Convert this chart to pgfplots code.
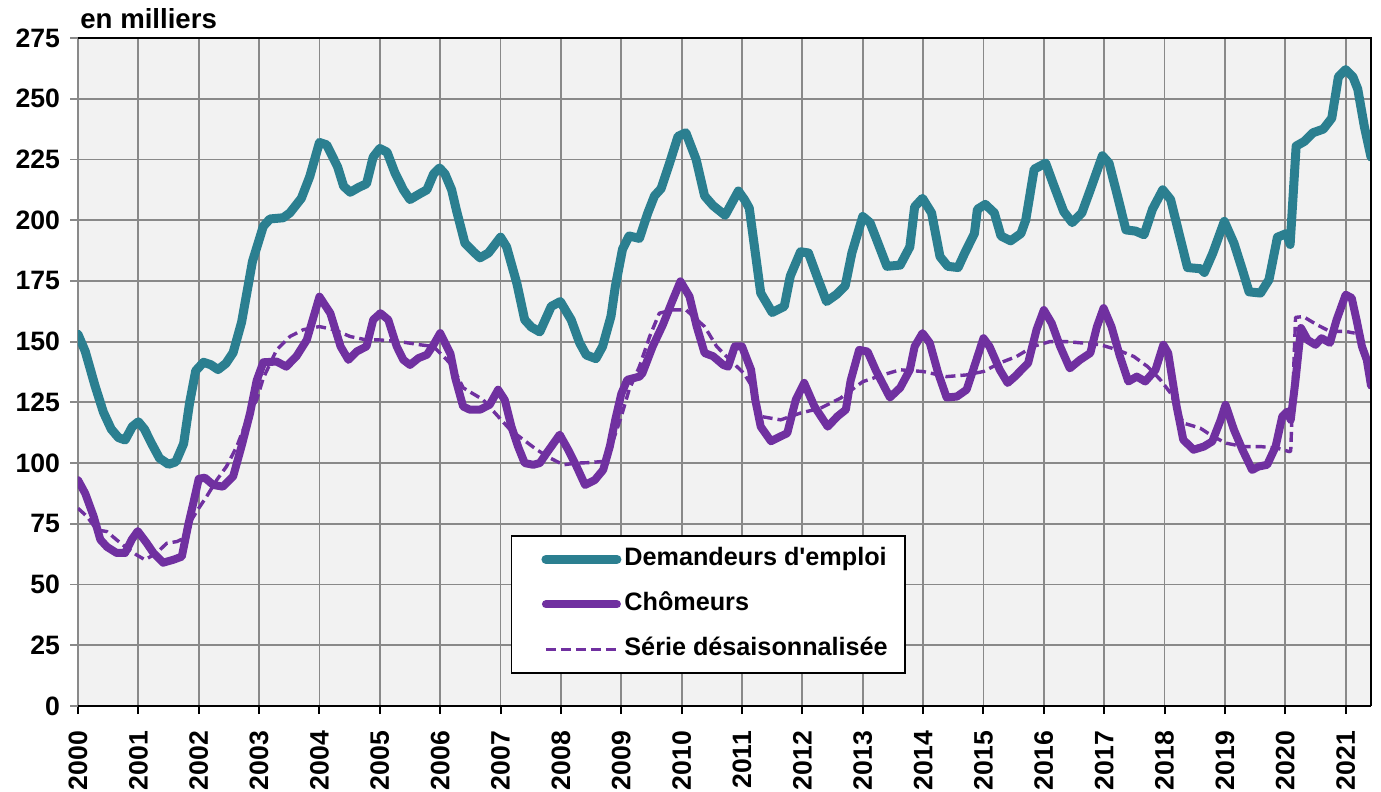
\documentclass[border=0pt]{standalone}
\usepackage{fontspec}
\setmainfont{Liberation Sans}
\usepackage{pgfplots}
\pgfplotsset{compat=1.18}
\definecolor{tealc}{HTML}{2B7F90}
\definecolor{purp}{HTML}{7030A0}
\definecolor{bgc}{HTML}{F2F2F2}
\definecolor{gridc}{HTML}{898989}
\begin{document}
\begin{tikzpicture}
\begin{axis}[
  name=ax,
  scale only axis, width=646.5pt, height=334pt,
  at={(0,0)}, anchor=south west,
  xmin=2000, xmax=2021.42, ymin=0, ymax=275,
  xtick={2000,2001,...,2021}, ytick={0,25,...,275},
  grid=major, major grid style={draw=gridc, line width=0.9pt},
  axis background/.style={fill=bgc},
  axis line style={draw=none},
  tick align=outside, major tick length=4pt,
  tick pos=left,
  xtick style={draw=black, line width=1pt},
  ytick style={draw=gridc, line width=0.9pt},
  /pgf/number format/assume math mode=true,
  /pgf/number format/1000 sep={},
  ticklabel style={font=\bfseries\fontsize{13.3}{15}\selectfont},
  xticklabel style={rotate=90, anchor=east},
  xticklabel shift=5pt,
  yticklabel shift=1.5pt,
  legend cell align=left,
  legend image code/.code={\path (0pt,0pt); \draw[#1] (8pt,0pt) -- (43.5pt,0pt);},
  legend style={at={(rel axis cs:0.3346,0.256)}, anchor=north west,
    draw=black, line width=0.8pt, fill=white,
    font=\bfseries\fontsize{12.6}{14}\selectfont,
    inner xsep=7pt, inner ysep=4pt, row sep=7pt,
    nodes={inner sep=1.5pt, text height=9.5pt, text depth=3pt}},
]
\addplot[tealc, line width=4.5pt, line join=round, line cap=round] coordinates {
(2000.00,153) (2000.12,146) (2000.28,132) (2000.42,121) (2000.55,114) (2000.67,110.5)
(2000.78,109.5) (2000.90,115) (2001.00,117) (2001.10,114) (2001.22,108) (2001.35,102)
(2001.50,99.5) (2001.62,100.5) (2001.75,108) (2001.85,125) (2001.95,138) (2002.08,141.5)
(2002.20,140.5) (2002.32,138.5) (2002.45,141) (2002.57,145.5) (2002.71,158) (2002.89,183)
(2003.07,197.5) (2003.18,200.5) (2003.40,201) (2003.51,203) (2003.70,209) (2003.84,218)
(2004.00,232) (2004.12,231) (2004.30,222) (2004.40,214) (2004.51,211.5) (2004.65,213.5)
(2004.78,215) (2004.89,226) (2005.00,229.5) (2005.12,228) (2005.25,219.5) (2005.39,212.5)
(2005.50,208.5) (2005.67,211) (2005.78,212.5) (2005.89,219) (2005.99,221.5) (2006.08,219)
(2006.19,212.5) (2006.27,204) (2006.41,190.5) (2006.55,187) (2006.66,184.5) (2006.80,186.5)
(2007.00,193) (2007.10,189) (2007.27,174) (2007.40,159) (2007.51,156) (2007.65,154)
(2007.84,164.5) (2007.99,166.5) (2008.17,159) (2008.31,149.5) (2008.42,144.5) (2008.58,143)
(2008.69,148) (2008.83,160.5) (2008.90,172.5) (2009.02,188) (2009.13,193.5) (2009.30,192.5)
(2009.44,203) (2009.55,210) (2009.66,213) (2009.80,223.5) (2009.94,234.5) (2010.07,236)
(2010.24,225) (2010.38,210) (2010.52,206) (2010.72,202) (2010.94,212) (2011.04,208.5)
(2011.12,205) (2011.31,170) (2011.50,162) (2011.70,164.5) (2011.80,177) (2011.97,187)
(2012.10,186.5) (2012.24,177) (2012.40,166.5) (2012.57,169.5) (2012.71,173) (2012.82,186.5)
(2013.00,201.5) (2013.12,199) (2013.23,192) (2013.40,181) (2013.62,181.5) (2013.78,189)
(2013.86,205.5) (2013.99,209) (2014.14,203) (2014.28,185) (2014.41,181) (2014.58,180.5)
(2014.69,186.5) (2014.85,194.5) (2014.90,204.5) (2015.03,206.5) (2015.18,203) (2015.29,193.5)
(2015.45,191.5) (2015.62,194.5) (2015.70,200) (2015.84,221) (2016.03,223.5) (2016.17,214)
(2016.33,203.5) (2016.47,199) (2016.63,203) (2016.77,212.5) (2016.97,226.5) (2017.08,223.5)
(2017.22,210) (2017.36,196) (2017.52,195.5) (2017.66,194) (2017.80,204.5) (2017.97,212.5)
(2018.10,208.5) (2018.24,194.5) (2018.38,180.5) (2018.60,180) (2018.66,178.5) (2018.80,186.5)
(2018.99,199.5) (2019.15,190.5) (2019.29,179.5) (2019.40,170.5) (2019.59,170) (2019.73,175.5)
(2019.87,193) (2020.02,194.5) (2020.08,190) (2020.18,230.5) (2020.32,232.5) (2020.46,236)
(2020.63,237.5) (2020.77,242) (2020.88,259) (2021.00,262) (2021.12,259) (2021.20,254)
(2021.31,238.5) (2021.42,226)
};
\addlegendentry{Demandeurs d\textquotesingle emploi}
\addplot[purp, line width=4pt, line join=round, line cap=round] coordinates {
(2000.00,93) (2000.12,87.5) (2000.26,78) (2000.37,68.5) (2000.48,65.5) (2000.64,63)
(2000.78,63) (2000.89,68.5) (2000.99,72) (2001.14,67) (2001.25,63) (2001.41,59)
(2001.58,60.2) (2001.72,61.5) (2001.83,75) (2001.91,83.5) (2002.00,93.5) (2002.10,94)
(2002.24,91) (2002.40,90.3) (2002.57,94.5) (2002.71,107) (2002.85,120.5) (2002.96,134)
(2003.07,141.5) (2003.29,141.8) (2003.45,139.7) (2003.62,144) (2003.79,150.7) (2004.00,168.5)
(2004.18,161.7) (2004.35,148) (2004.48,142.5) (2004.62,146) (2004.78,148) (2004.89,159)
(2005.01,161.7) (2005.14,159) (2005.28,148) (2005.39,142.5) (2005.50,140.4) (2005.64,143.2)
(2005.78,144.6) (2005.89,148.7) (2006.00,153.5) (2006.17,145) (2006.25,135) (2006.38,123.3)
(2006.49,122) (2006.66,122) (2006.82,124) (2006.96,130.2) (2007.07,126) (2007.18,115)
(2007.29,106.8) (2007.40,100) (2007.54,99.3) (2007.65,100) (2007.76,104) (2007.98,111.7)
(2008.12,105.5) (2008.26,98.6) (2008.40,91) (2008.56,93) (2008.70,97.2) (2008.81,106.8)
(2008.90,117.8) (2009.00,128.5) (2009.10,134.3) (2009.30,135.6) (2009.35,137) (2009.52,148)
(2009.69,157) (2009.85,167) (2009.98,174.8) (2010.13,168.6) (2010.25,156.2) (2010.38,145.3)
(2010.52,144) (2010.69,140.4) (2010.77,139.7) (2010.88,148) (2011.00,148) (2011.15,138.4)
(2011.22,126) (2011.31,115) (2011.48,109) (2011.64,111) (2011.75,112.3) (2011.89,126)
(2012.03,133) (2012.20,123.3) (2012.42,115) (2012.58,119.2) (2012.72,122) (2012.80,134)
(2012.94,146.6) (2013.08,145.9) (2013.22,138) (2013.45,127) (2013.62,131) (2013.78,138.4)
(2013.86,148) (2013.99,153.5) (2014.11,149.5) (2014.25,137) (2014.39,127) (2014.56,127.4)
(2014.72,130.2) (2014.83,138.4) (2015.00,151.4) (2015.10,148) (2015.27,138.4) (2015.40,133)
(2015.52,135.6) (2015.74,141.2) (2015.88,155) (2016.00,163) (2016.13,157.6) (2016.27,148)
(2016.43,139) (2016.60,142.5) (2016.77,145.3) (2016.88,156.2) (2016.99,163.8) (2017.12,156.2)
(2017.26,144) (2017.40,133.6) (2017.54,135.6) (2017.68,133.6) (2017.85,138.4) (2017.98,148.7)
(2018.06,145.3) (2018.20,123.3) (2018.31,109.6) (2018.48,105.5) (2018.65,106.8) (2018.79,108.9)
(2018.93,117.8) (2019.01,124) (2019.15,113.7) (2019.29,105.5) (2019.45,97.2) (2019.56,98.6)
(2019.70,99.3) (2019.84,106.8) (2019.95,119.2) (2020.03,121.2) (2020.09,117.8) (2020.17,134.3)
(2020.26,155.6) (2020.37,150.7) (2020.50,148.7) (2020.60,151.4) (2020.74,149.5) (2020.85,159)
(2021.00,169.3) (2021.10,168) (2021.18,159) (2021.27,148) (2021.35,142.5) (2021.42,131.9)
};
\addlegendentry{Chômeurs}
\addplot[purp, line width=1.7pt, dash pattern=on 5pt off 2.5pt, line join=round] coordinates {
(2000.00,81.4) (2000.15,78) (2000.31,72.5) (2000.48,71.8) (2000.64,68.4) (2000.81,65)
(2000.97,62.2) (2001.11,60.2) (2001.30,62.9) (2001.47,67) (2001.64,67.7) (2001.75,69)
(2001.88,76.6) (2002.00,81.4) (2002.13,86.2) (2002.30,93.1) (2002.46,98.6) (2002.63,106.8)
(2002.80,117.8) (2002.96,126.1) (2003.07,135) (2003.29,146.6) (2003.51,152.1) (2003.73,154.9)
(2004.00,156.2) (2004.24,154.9) (2004.51,152.1) (2004.78,150.7) (2005.00,150.7) (2005.33,150)
(2005.67,148.7) (2005.89,148) (2006.11,142.5) (2006.20,140) (2006.38,131) (2006.71,126.1)
(2006.96,119.2) (2007.16,113.7) (2007.38,109.6) (2007.60,105.5) (2007.82,102.1) (2008.04,99.3)
(2008.26,100) (2008.48,100.2) (2008.70,100.7) (2008.87,109.6) (2009.00,119.2) (2009.13,130.2)
(2009.30,139.7) (2009.47,152.1) (2009.63,161.7) (2009.85,163.1) (2010.07,163.1) (2010.38,156.2)
(2010.58,148) (2010.80,142.5) (2011.03,137) (2011.20,130.2) (2011.31,119.2) (2011.64,117.8)
(2011.97,120.6) (2012.30,122.6) (2012.63,126.7) (2013.00,133.5) (2013.33,136.3) (2013.62,138.4)
(2014.00,137.7) (2014.39,135.6) (2014.72,136.3) (2015.00,137.7) (2015.27,141.2) (2015.55,143.9)
(2015.82,148) (2016.10,150) (2016.38,150) (2016.66,149.4) (2016.94,148.7) (2017.22,146.6)
(2017.49,143.9) (2017.72,139.7) (2017.93,134.3) (2018.10,128.8) (2018.31,116.5) (2018.59,114.4)
(2018.80,111) (2019.02,108.2) (2019.30,106.8) (2019.59,106.8) (2019.87,106.1) (2020.07,104.7)
(2020.09,105) (2020.17,160) (2020.30,160.3) (2020.52,157) (2020.74,154.2) (2021.00,154.2)
(2021.15,153.5)
};
\addlegendentry{Série désaisonnalisée}
\end{axis}
\draw[black, line width=0.8pt] (ax.north west) -- (ax.north east) -- (ax.south east);
\draw[black, line width=1.3pt] (ax.south west) -- (ax.south east);
\node[anchor=base west, font=\bfseries\fontsize{13.8}{16}\selectfont, inner sep=0pt]
  at ([xshift=1pt, yshift=4.5pt]ax.north west) {en milliers};
\pgfresetboundingbox
\useasboundingbox (-39pt,-43pt) rectangle (651.5pt,353pt);
\end{tikzpicture}
\end{document}
